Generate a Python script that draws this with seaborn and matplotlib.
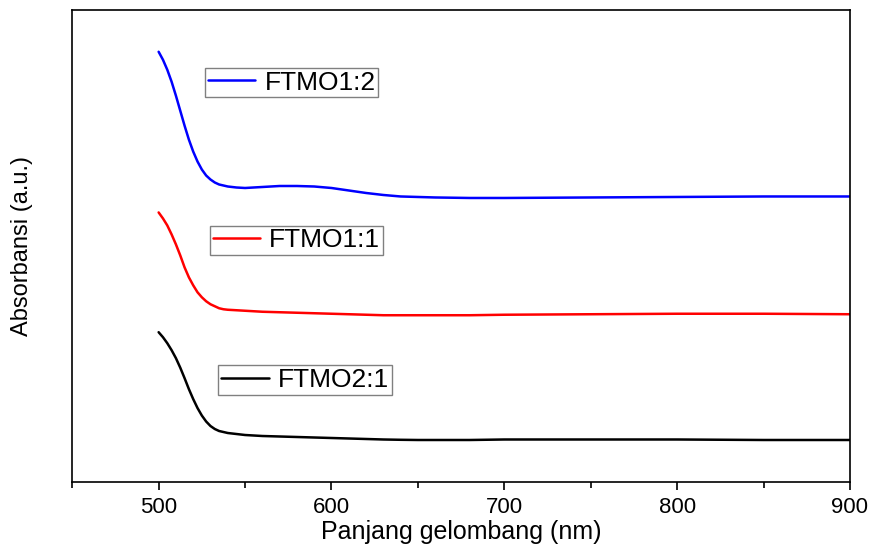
import numpy as np
import pandas as pd
import matplotlib
matplotlib.use("Agg")
import matplotlib.pyplot as plt
import seaborn as sns
from matplotlib.lines import Line2D
from matplotlib.legend import Legend
from matplotlib.ticker import MultipleLocator

# wavelength grid (nm), finer on the steep edge
wavelength = [500, 502.5, 505, 507.5, 510, 512.5, 515, 517.5, 520, 522.5, 525, 527.5,
              530, 532.5, 535, 537.5, 540, 545, 550,
              560, 570, 580, 590, 600, 610, 620, 630, 640, 650,
              660, 680, 700, 750, 800, 850, 900]

# absorbance in arbitrary units (curves are offset in the original)
ftmo_1_2 = [4.31, 4.23, 4.13, 4.01, 3.87, 3.72, 3.57, 3.43, 3.31, 3.21, 3.13, 3.07,
            3.03, 3.00, 2.98, 2.97, 2.96, 2.95, 2.945,
            2.955, 2.965, 2.965, 2.96, 2.945, 2.92, 2.895, 2.875, 2.86, 2.855,
            2.85, 2.845, 2.845, 2.85, 2.855, 2.86, 2.86]
ftmo_1_1 = [2.70, 2.64, 2.57, 2.48, 2.38, 2.27, 2.15, 2.05, 1.97, 1.90, 1.85, 1.81,
            1.78, 1.76, 1.74, 1.73, 1.725, 1.72, 1.715,
            1.705, 1.70, 1.695, 1.69, 1.685, 1.68, 1.675, 1.67, 1.67, 1.67,
            1.67, 1.67, 1.675, 1.68, 1.685, 1.685, 1.68]
ftmo_2_1 = [1.50, 1.45, 1.39, 1.32, 1.24, 1.145, 1.04, 0.93, 0.83, 0.74, 0.665, 0.605,
            0.56, 0.53, 0.51, 0.50, 0.49, 0.48, 0.47,
            0.46, 0.455, 0.45, 0.445, 0.44, 0.435, 0.43, 0.425, 0.422, 0.42,
            0.42, 0.42, 0.425, 0.425, 0.425, 0.42, 0.42]

labels = ['FTMO1:2', 'FTMO1:1', 'FTMO2:1']
colours = ['#0000ff', '#ff0000', '#000000']
# upper-left corner of each legend box, axes fraction
legend_anchor = [(0.171, 0.877), (0.177, 0.543), (0.188, 0.247)]

sns.set_style('ticks')
plt.rcParams['font.family'] = ['Liberation Sans', 'DejaVu Sans']
plt.rcParams['text.color'] = 'black'
plt.rcParams['axes.labelcolor'] = 'black'
plt.rcParams['xtick.color'] = 'black'

fig = plt.figure(figsize=(8.7, 5.47), dpi=100)
ax = fig.add_axes([0.083, 0.119, 0.894, 0.863])

series = [ftmo_1_2, ftmo_1_1, ftmo_2_1]
for vals, col in zip(series, colours):
    df = pd.DataFrame({'wl': wavelength, 'abs': vals})
    sns.lineplot(data=df, x='wl', y='abs', color=col, linewidth=1.8, ax=ax)

# one small legend box next to each curve
for lab, col, anchor in zip(labels, colours, legend_anchor):
    h = Line2D([], [], color=col, linewidth=1.8)
    leg = Legend(ax, [h], [lab], loc='upper left', bbox_to_anchor=anchor,
                 fancybox=False, edgecolor='#808080', framealpha=1,
                 fontsize=19, handlelength=1.8, borderpad=0.1,
                 handletextpad=0.35, borderaxespad=0)
    leg.get_frame().set_linewidth(1.0)
    ax.add_artist(leg)

ax.set_xlim(450, 900)
ax.set_ylim(0, 4.73)
ax.xaxis.set_major_locator(MultipleLocator(100))
ax.xaxis.set_minor_locator(MultipleLocator(50))
ax.tick_params(axis='x', which='major', direction='out', length=6, width=1.2,
               labelsize=16, pad=5)
ax.tick_params(axis='x', which='minor', direction='out', length=4, width=1.2)
ax.set_yticks([])

for sp in ax.spines.values():
    sp.set_visible(True)
    sp.set_linewidth(1.2)
    sp.set_color('black')

ax.set_xlabel('Panjang gelombang (nm)', fontsize=18, labelpad=1)
ax.set_ylabel('Absorbansi (a.u.)', fontsize=17, labelpad=28)

fig.savefig('out.png', dpi=100)
